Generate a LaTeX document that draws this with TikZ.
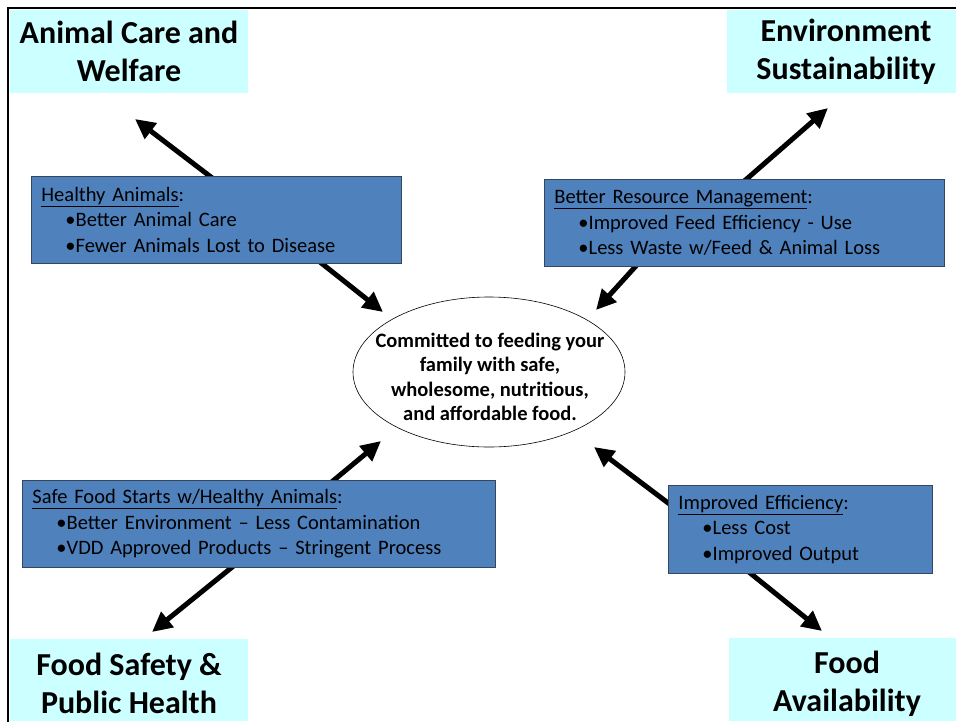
\documentclass[tikz,border=0pt]{standalone}
\usepackage{fontspec}
\setmainfont{Carlito}
\usetikzlibrary{arrows.meta,shapes.geometric}
\definecolor{cornercyan}{HTML}{CCFFFF}
\definecolor{boxblue}{HTML}{4F81BD}
\definecolor{boxedge}{HTML}{34475E}
\tikzset{
  corner/.style={fill=cornercyan, inner sep=0pt, align=center,
    font=\fontsize{32}{38}\selectfont\bfseries},
  bluebox/.style={fill=boxblue, draw=boxedge, line width=0.9pt, anchor=north west,
    inner xsep=10pt, inner ysep=0pt, align=left,
    font=\fontsize{20.5}{25.5}\selectfont},
  arr/.style={line width=5pt, -{Triangle[length=20pt,width=19pt]}},
  frameline/.style={line width=2.5pt, black}
}
\newcommand{\bul}{\hspace*{24pt}\textbullet}
\begin{document}
\begin{tikzpicture}[x=1pt,y=-1pt]
\clip (0,0) rectangle (956,721);
\fill[white] (0,0) rectangle (956,721);
% frame
\draw[frameline] (8,730) -- (8,8) -- (960,8);
% corner boxes
\fill[cornercyan] (10,10) rectangle (248,93);
\fill[cornercyan] (727,10) rectangle (956,93);
\fill[cornercyan] (10,639) rectangle (248,721);
\fill[cornercyan] (729,638) rectangle (956,721);
\node[corner] (acw) at (129,51.5) {Animal Care and\\Welfare};
\node[corner] (env) at (846,51.5) {Environment\\Sustainability};
\node[corner] (fsp) at (129,683) {Food Safety \&\\Public Health};
\node[corner] (fav) at (847,684) {Food\\Availability};
% ellipse
\node[ellipse, draw=black, line width=0.6pt, fill=white, minimum width=272pt, minimum height=150pt,
      inner sep=0pt] (core) at (489,372) {};
\node[align=center, inner sep=0pt, font=\fontsize{20.5}{24.5}\selectfont\bfseries] (coretext) at (490,377)
  {Committed to feeding your\\family with safe,\\wholesome, nutritious,\\and affordable food.};
% arrow anchors and tips
\coordinate (haS) at (262,216);
\coordinate (haUp) at (135,119);
\coordinate (haDn) at (383,312);
\coordinate (brS1) at (710,211);
\coordinate (brUp) at (828,108);
\coordinate (brS2) at (655,245);
\coordinate (brDn) at (596,310);
\coordinate (sfS1) at (316,495);
\coordinate (sfUp) at (381,441);
\coordinate (sfS2) at (252,551);
\coordinate (sfDn) at (152,632);
\coordinate (ieS1) at (684,515);
\coordinate (ieUp) at (594,447);
\coordinate (ieS2) at (734,560);
\coordinate (ieDn) at (822,631);
\draw[arr] (haS) -- (haUp);
\draw[arr] (haS) -- (haDn);
\draw[arr] (brS1) -- (brUp);
\draw[arr] (brS2) -- (brDn);
\draw[arr] (sfS1) -- (sfUp);
\draw[arr] (sfS2) -- (sfDn);
\draw[arr] (ieS1) -- (ieUp);
\draw[arr] (ieS2) -- (ieDn);
% blue boxes
\node[bluebox, minimum width=370pt, minimum height=87pt, text width=350pt] (ha) at (31,176)
  {\underline{Healthy Animals}:\\\bul Better Animal Care\\\bul Fewer Animals Lost to Disease};
\node[bluebox, minimum width=400pt, minimum height=87pt, text width=380pt] (br) at (544,179)
  {\underline{Better Resource Management}:\\\bul Improved Feed Efficiency - Use\\\bul Less Waste w/Feed \& Animal Loss};
\node[bluebox, minimum width=473pt, minimum height=87pt, text width=453pt] (sf) at (22,480)
  {\underline{Safe Food Starts w/Healthy Animals}:\\\bul Better Environment -- Less Contamination\\\bul VDD Approved Products -- Stringent Process};
\node[bluebox, minimum width=264pt, minimum height=88pt, text width=244pt] (ie) at (668,485)
  {\underline{Improved Efficiency}:\\\bul Less Cost\\\bul Improved Output};
\end{tikzpicture}
\end{document}
